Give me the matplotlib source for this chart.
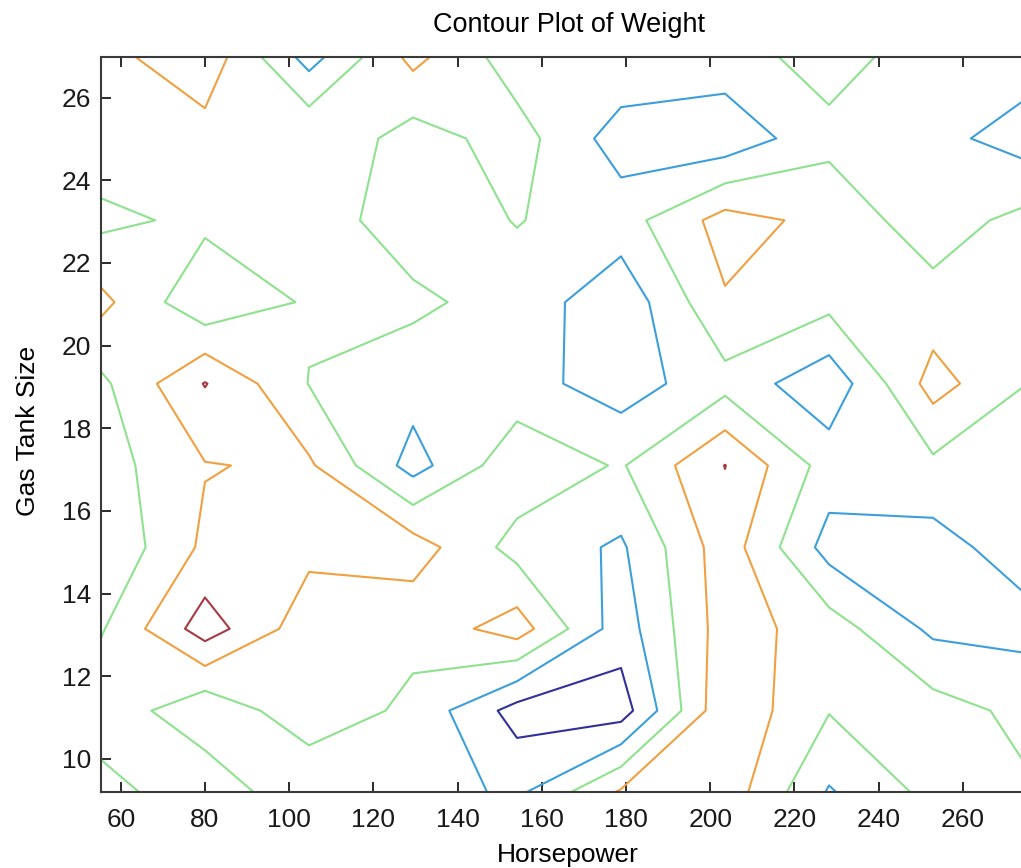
import numpy as np
import matplotlib.pyplot as plt

# Grid of the contour plot
horsepower = [55.3, 80.0, 104.7, 129.4, 154.1, 178.8, 203.5, 228.2, 252.9, 277.6]
tank_size = [9.19, 11.17, 13.15, 15.12, 17.10, 19.08, 21.05, 23.03, 25.01, 26.98]

# Weight on the grid, one row per tank size (bottom row first)
weight_r0 = [3250, 3925, 3025, 3250, 2900, 4075, 4300, 2950, 3650, 3525]
weight_r1 = [3875, 3100, 3850, 3375, 2300, 2250, 4400, 3525, 3715, 3325]
weight_r2 = [3450, 4750, 3700, 3650, 4250, 2730, 4250, 3750, 2895, 2850]
weight_r3 = [3050, 4100, 4130, 4250, 3310, 2925, 4275, 2800, 2780, 3350]
weight_r4 = [3265, 3975, 4075, 2800, 3850, 3450, 4510, 3275, 3390, 3375]
weight_r5 = [3390, 4525, 3485, 3215, 3200, 2750, 3325, 2650, 4200, 3430]
weight_r6 = [4135, 3100, 3560, 3600, 3300, 2650, 3950, 3650, 3710, 3800]
weight_r7 = [3380, 3610, 3750, 3240, 3520, 3275, 4200, 3850, 3200, 3750]
weight_r8 = [3825, 3805, 3950, 3275, 3715, 2750, 2650, 3360, 3200, 2650]
weight_r9 = [3835, 4330, 2800, 4150, 3225, 3400, 3285, 3700, 3245, 3250]

levels = [2500, 3000, 3500, 4000, 4500]
line_colors = ['#30309c', '#3c9fdc', '#8ee28e', '#f0a040', '#a63a42']

Z = np.array([weight_r0, weight_r1, weight_r2, weight_r3, weight_r4,
              weight_r5, weight_r6, weight_r7, weight_r8, weight_r9])
X, Y = np.meshgrid(horsepower, tank_size)

plt.rcParams['font.family'] = ['Liberation Sans', 'DejaVu Sans']

fig = plt.figure(figsize=(10.21, 8.68), dpi=100)
# axes run a bit past the right edge of the picture (as in the reference crop)
ax = fig.add_axes([0.0989, 0.087, 0.9168, 0.8473])

ax.contour(X, Y, Z, levels=levels, colors=line_colors, linewidths=1.5)

ax.set_xlim(horsepower[0], horsepower[-1])
ax.set_ylim(tank_size[0], tank_size[-1])
ax.set_xticks(np.arange(60, 280, 20))
ax.set_yticks(np.arange(10, 27, 2))

ax.tick_params(direction='in', top=True, right=True, length=7, width=1.3,
               labelsize=19, colors='#1a1a1a')
ax.tick_params(axis='x', pad=11)
ax.tick_params(axis='y', pad=7)
for s in ax.spines.values():
    s.set_color('#3a3a3a')
    s.set_linewidth(1.5)

ax.set_title('Contour Plot of Weight', fontsize=19.5, y=1.0435, va='center', pad=0)
ax.set_xlabel('Horsepower', fontsize=19)
ax.xaxis.set_label_coords(0.499, -0.085)
ax.xaxis.label.set_va('center')
ax.set_ylabel('Gas Tank Size', fontsize=19)
ax.yaxis.set_label_coords(-0.078, 0.4915)
ax.yaxis.label.set_va('center')

fig.savefig('out.png', dpi=100)
